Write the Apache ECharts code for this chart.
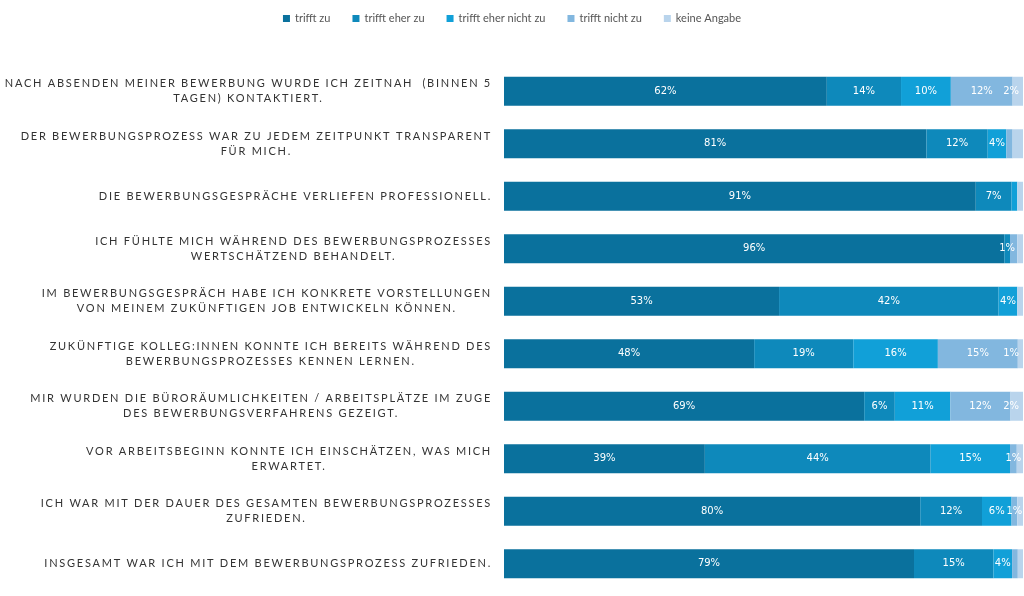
<!DOCTYPE html>
<html><head><meta charset="utf-8">
<script src="https://cdn.jsdelivr.net/npm/echarts@6/dist/echarts.min.js"></script>
<style>html,body{margin:0;padding:0;background:#fff}#c{width:1024px;height:596px}</style>
</head><body><div id="c"></div>
<script>
const categories = [
  'NACH ABSENDEN MEINER BEWERBUNG WURDE ICH ZEITNAH  (BINNEN 5\nTAGEN) KONTAKTIERT.',
  'DER BEWERBUNGSPROZESS WAR ZU JEDEM ZEITPUNKT TRANSPARENT\nFÜR MICH.',
  'DIE BEWERBUNGSGESPRÄCHE VERLIEFEN PROFESSIONELL.',
  'ICH FÜHLTE MICH WÄHREND DES BEWERBUNGSPROZESSES\nWERTSCHÄTZEND BEHANDELT.',
  'IM BEWERBUNGSGESPRÄCH HABE ICH KONKRETE VORSTELLUNGEN\nVON MEINEM ZUKÜNFTIGEN JOB ENTWICKELN KÖNNEN.',
  'ZUKÜNFTIGE KOLLEG:INNEN KONNTE ICH BEREITS WÄHREND DES\nBEWERBUNGSPROZESSES KENNEN LERNEN.',
  'MIR WURDEN DIE BÜRORÄUMLICHKEITEN / ARBEITSPLÄTZE IM ZUGE\nDES BEWERBUNGSVERFAHRENS GEZEIGT.',
  'VOR ARBEITSBEGINN KONNTE ICH EINSCHÄTZEN, WAS MICH\nERWARTET.',
  'ICH WAR MIT DER DAUER DES GESAMTEN BEWERBUNGSPROZESSES\nZUFRIEDEN.',
  'INSGESAMT WAR ICH MIT DEM BEWERBUNGSPROZESS ZUFRIEDEN.'
];
const seriesNames = ['trifft zu', 'trifft eher zu', 'trifft eher nicht zu', 'trifft nicht zu', 'keine Angabe'];
const trifftZu          = [62.2, 81.4, 90.9, 96.4, 53.0, 48.2, 69.4, 38.7, 80.2, 79.0];
const trifftEherZu      = [14.3, 11.8,  6.9,  1.1, 42.3, 19.1,  5.9, 43.5, 11.9, 15.3];
const trifftEherNichtZu = [ 9.6,  3.6,  1.1,  0.0,  3.6, 16.3, 10.7, 15.3,  5.7,  3.6];
const trifftNichtZu     = [11.9,  1.2,  0.0,  1.4,  0.0, 15.4, 11.6,  1.3,  1.1,  1.1];
const keineAngabe       = [ 2.0,  2.0,  1.1,  1.1,  1.1,  1.0,  2.4,  1.2,  1.1,  1.0];
// row indices whose value label is not printed in the reference
const hiddenLabels = {
  'trifft zu': [],
  'trifft eher zu': [],
  'trifft eher nicht zu': [2],
  'trifft nicht zu': [1, 3, 9],
  'keine Angabe': [1, 2, 3, 4, 7, 8, 9]
};
const seriesValues = [trifftZu, trifftEherZu, trifftEherNichtZu, trifftNichtZu, keineAngabe];
const colors = ['#0a719d', '#0e89bb', '#11a0d8', '#82b7df', '#b9d4ec'];

// letter-spaced category labels (tracking as in the reference)
const LS = 1.75;
const LS_TAG = 'LSpace';
const mctx = document.createElement('canvas').getContext('2d');
function spacingFor(font) { return (font && font.indexOf(LS_TAG) >= 0) ? LS + 'px' : '0px'; }
try {
  if (echarts.setPlatformAPI) {
    echarts.setPlatformAPI({
      measureText: function (text, font) {
        mctx.font = font || '12px sans-serif';
        try { mctx.letterSpacing = spacingFor(font); } catch (e) {}
        return mctx.measureText(text);
      }
    });
  }
} catch (e) {}
const origFill = CanvasRenderingContext2D.prototype.fillText;
CanvasRenderingContext2D.prototype.fillText = function (t, x, y, mw) {
  try { this.letterSpacing = spacingFor(this.font); } catch (e) {}
  if (mw !== undefined) origFill.call(this, t, x, y, mw); else origFill.call(this, t, x, y);
  try { this.letterSpacing = '0px'; } catch (e) {}
};

const chart = echarts.init(document.getElementById('c'), null, { renderer: 'canvas' });

const series = seriesNames.map(function (name, si) {
  const hidden = hiddenLabels[name];
  const isLast = si === seriesNames.length - 1;
  return {
    name: name,
    type: 'bar',
    stack: 'total',
    barWidth: 29,
    itemStyle: { color: colors[si] },
    emphasis: { disabled: true },
    label: {
      show: true,
      position: isLast ? 'insideRight' : 'inside',
      distance: 4,
      color: '#ffffff',
      fontFamily: 'DejaVu Sans',
      fontSize: 10,
      formatter: function (p) { return Math.round(p.value) + '%'; }
    },
    data: seriesValues[si].map(function (v, i) {
      const item = { value: v };
      if (v === 0 || hidden.indexOf(i) >= 0) item.label = { show: false };
      return item;
    })
  };
});

chart.setOption({
  animation: false,
  color: colors,
  legend: {
    top: 8,
    left: 'center',
    icon: 'rect',
    itemWidth: 7,
    itemHeight: 7,
    itemGap: 22,
    selectedMode: false,
    textStyle: { fontFamily: 'Lato', fontSize: 11, color: '#555555' },
    data: seriesNames
  },
  grid: { left: 504, right: 1, top: 65, bottom: 6, containLabel: false, outerBoundsMode: 'none' },
  xAxis: {
    type: 'value', min: 0, max: 100,
    show: false
  },
  yAxis: {
    type: 'category',
    inverse: true,
    data: categories,
    axisLine: { show: false },
    axisTick: { show: false },
    splitLine: { show: false },
    axisLabel: {
      align: 'right',
      margin: 12,
      formatter: function (v) {
        return v.split('\n').map(function (l) { return '{c|' + l + '}'; }).join('\n');
      },
      rich: {
        c: {
          align: 'center',
          fontFamily: 'Lato, ' + LS_TAG,
          fontSize: 11,
          color: '#333333',
          lineHeight: 15
        }
      }
    }
  },
  series: series
});
</script>
</body></html>
